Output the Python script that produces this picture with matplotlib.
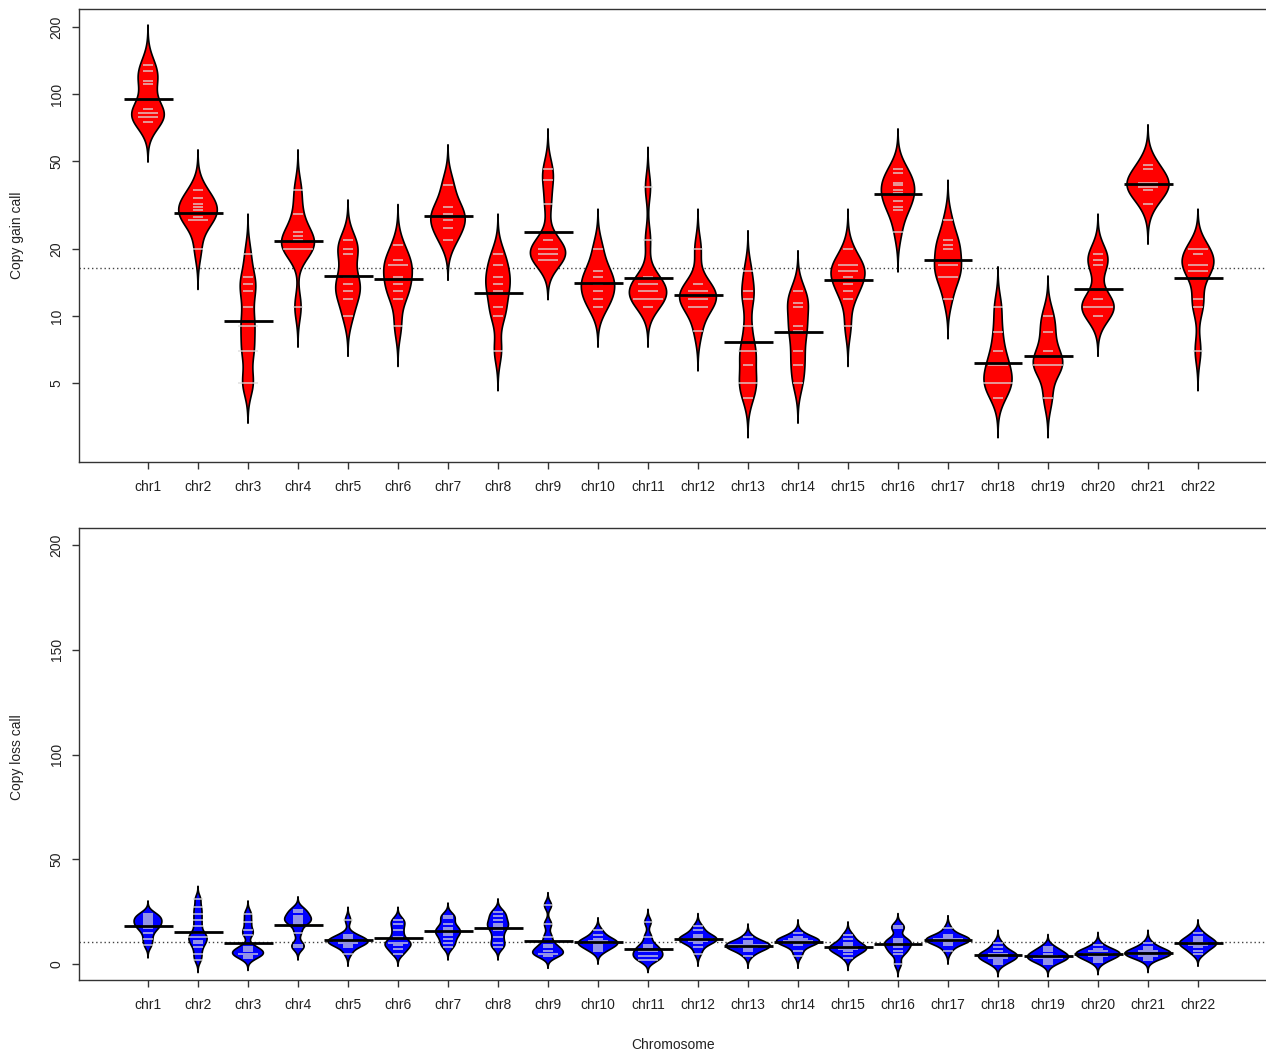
import numpy as np
import matplotlib.pyplot as plt

plt.rcParams['font.family'] = ['Liberation Sans', 'DejaVu Sans']

chroms = ['chr' + str(i) for i in range(1, 23)]

# copy gain calls per sample, one list per chromosome
gain_calls = [
    [135, 127, 115, 111, 86, 82, 82, 79, 79, 75],
    [37, 34, 32, 31, 30, 28, 27, 27, 20],
    [19, 15, 14, 13, 11, 9, 9, 7, 7, 5, 5],
    [37, 29, 24, 23, 22, 20, 20, 20, 11],
    [22, 20, 19, 15, 14, 13, 12, 10],
    [21, 18, 17, 17, 15, 14, 13, 12, 9],
    [39, 31, 29, 27, 25, 22],
    [19, 17, 15, 14, 13, 11, 10, 7],
    [46, 41, 32, 22, 20, 20, 19, 19, 18, 18],
    [20, 16, 15, 14, 13, 12, 11],
    [38, 22, 15, 14, 14, 13, 13, 12, 12, 12, 11],
    [20, 14, 13, 13, 12, 12, 11, 11, 8.6],
    [16, 13, 12, 9, 7, 7, 6, 5, 5, 4.3],
    [13, 11.5, 11, 9, 8.6, 7, 6, 5],
    [20, 17, 17, 16, 16, 15, 14, 13, 12, 9],
    [46, 44, 40, 39, 37, 36, 33, 31, 30, 24],
    [27, 22, 21, 20, 17, 17, 15, 15, 12],
    [11, 8.5, 7, 6, 6, 5, 5, 5, 4.3],
    [10, 8.5, 7, 6, 6, 6, 4.3],
    [19, 18, 17, 12, 11, 11, 11, 10],
    [48, 46, 40, 40, 38, 38, 37, 32],
    [20, 20, 19, 17, 17, 16, 16, 12, 11, 7],
]

# copy loss calls per sample
loss_calls = [
    [24, 23, 22, 21, 20, 19, 18, 17, 15, 12, 9],
    [31, 27, 24, 21, 18, 15, 13, 13, 11, 10, 8, 5, 2],
    [24, 20, 16, 14, 8, 7, 6, 5, 5, 4, 3],
    [26, 25, 23, 22, 21, 20, 19, 15, 9, 8],
    [21, 14, 13, 12, 11, 11, 11, 10, 10, 9, 8, 5],
    [21, 19, 16, 13, 10, 10, 9, 7, 5],
    [23, 22, 19, 17, 16, 15, 14, 12, 10, 8],
    [25, 23, 21, 19, 18, 16, 13, 10, 8],
    [28, 19, 13, 9, 8, 6, 5, 5, 4],
    [16, 14, 12, 11, 11, 10, 10, 10, 9, 8, 7, 6],
    [20, 13, 9, 8, 6, 6, 4, 4, 2, 2],
    [18, 16, 14, 13, 12, 12, 12, 11, 11, 10, 8, 5],
    [13, 11, 10, 9, 9, 9, 9, 8, 8, 7, 6, 4],
    [15, 13, 12, 12, 11, 11, 11, 10, 10, 10, 9, 6, 4],
    [14, 12, 10, 9, 8, 8, 7, 7, 6, 5, 3],
    [18, 17, 12, 11, 10, 9, 8, 6, 5, 0],
    [17, 14, 13, 12, 12, 12, 11, 11, 11, 10, 9, 6],
    [10, 8, 6, 5, 5, 4, 4, 3, 3, 2, 1, 0],
    [8, 7, 6, 5, 4, 4, 3, 3, 3, 2, 1, 0],
    [9, 7, 6, 6, 5, 5, 5, 4, 4, 3, 2, 1],
    [10, 8, 7, 6, 6, 5, 5, 5, 5, 4, 4, 3, 2],
    [15, 13, 12, 11, 10, 10, 9, 9, 8, 6, 5],
]


def draw_beans(ax, data, color, bw, maxwidth, log=False):
    # densities are computed on log10 values for the gain panel
    tdata = [np.log10(np.array(d, float)) if log else np.array(d, float) for d in data]
    back = (lambda v: 10 ** np.asarray(v)) if log else (lambda v: np.asarray(v))

    grids, dens = [], []
    for t in tdata:
        g = np.linspace(t.min() - 3 * bw, t.max() + 3 * bw, 400)
        k = np.exp(-0.5 * ((g[:, None] - t[None, :]) / bw) ** 2)
        d = k.sum(axis=1) / (len(t) * bw * np.sqrt(2 * np.pi))
        grids.append(g)
        dens.append(d)
    dmax = max(d.max() for d in dens)

    for i, (t, g, d) in enumerate(zip(tdata, grids, dens)):
        x = i + 1
        w = maxwidth / 2 * d / dmax
        xs = np.r_[x - w, (x + w)[::-1]]
        ys = back(np.r_[g, g[::-1]])
        ax.fill(xs, ys, facecolor=color, edgecolor='black', lw=1.2, zorder=2)

        # one short line per sample, longer where values repeat
        vals, cnt = np.unique(t, return_counts=True)
        for v, c in zip(vals, cnt):
            h = min(0.1 * c, 0.45)
            ax.plot([x - h, x + h], [back(v)] * 2, color='#dcdcdc', lw=1.2,
                    alpha=0.8, zorder=3, solid_capstyle='butt')

        # bean average
        ax.plot([x - 0.49, x + 0.49], [back(t.mean())] * 2, color='black',
                lw=2, zorder=4, solid_capstyle='butt')

    # overall average
    allt = np.concatenate(tdata)
    ax.axhline(back(allt.mean()), color='#444444', lw=1, ls=(0, (1, 2)), zorder=1)


def style_axis(ax):
    ax.set_xlim(-0.38, 23.36)
    ax.set_xticks(range(1, 23))
    ax.set_xticklabels(chroms)
    for s in ['left', 'top', 'bottom']:
        ax.spines[s].set_color('#333333')
        ax.spines[s].set_linewidth(1.0)
    ax.spines['right'].set_visible(False)
    ax.tick_params(axis='both', length=5, width=1, color='#333333',
                   labelcolor='#222222', labelsize=10, pad=8)
    ax.tick_params(axis='y', pad=6)
    for lab in ax.get_yticklabels():
        lab.set_rotation(90)
        lab.set_verticalalignment('center')


fig = plt.figure(figsize=(12.66, 10.53), dpi=100)
ax1 = fig.add_axes([79 / 1266, 1 - 462 / 1053, 1 - 79 / 1266, 453 / 1053])
ax2 = fig.add_axes([79 / 1266, 1 - 980 / 1053, 1 - 79 / 1266, 452 / 1053])

# gain panel on a log scale
ax1.set_yscale('log')
draw_beans(ax1, gain_calls, '#ff0000', bw=0.06, maxwidth=0.84, log=True)
ax1.set_ylim(2.204, 241.9)
ax1.set_yticks([5, 10, 20, 50, 100, 200])
ax1.set_yticklabels(['5', '10', '20', '50', '100', '200'])
ax1.yaxis.set_minor_locator(plt.NullLocator())
style_axis(ax1)

# loss panel
draw_beans(ax2, loss_calls, '#0000ff', bw=2.0, maxwidth=0.92)
ax2.set_ylim(-7.64, 208.2)
ax2.set_yticks([0, 50, 100, 150, 200])
style_axis(ax2)

fig.text(17 / 1266, 1 - 235 / 1053, 'Copy gain call', rotation=90,
         ha='center', va='center', fontsize=10, color='#222222')
fig.text(17 / 1266, 1 - 757 / 1053, 'Copy loss call', rotation=90,
         ha='center', va='center', fontsize=10, color='#222222')
fig.text(673 / 1266, 1 - 1045 / 1053, 'Chromosome', ha='center', va='center',
         fontsize=10, color='#222222')

fig.savefig('out.png', dpi=100)
